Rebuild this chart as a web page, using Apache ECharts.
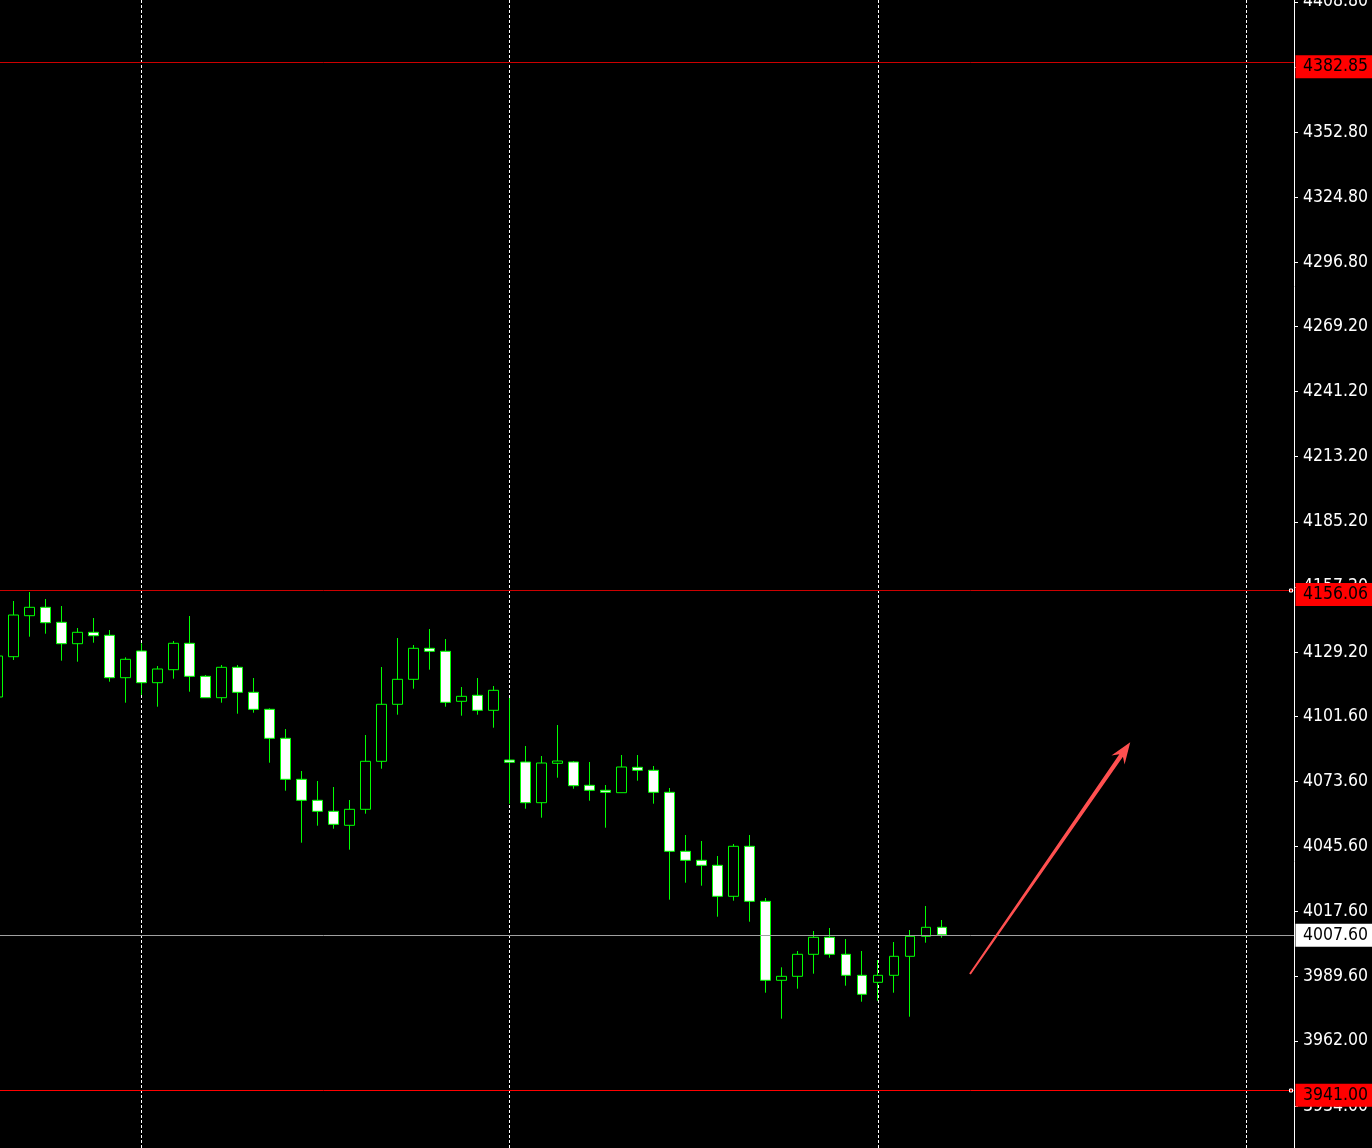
<!DOCTYPE html>
<html>
<head>
<meta charset="utf-8">
<script src="https://cdn.jsdelivr.net/npm/echarts@6/dist/echarts.min.js"></script>
<style>
html,body{margin:0;padding:0;background:#000;}
#c{width:1372px;height:1148px;}
</style>
</head>
<body>
<div id="c"></div>
<script>
// ---- data ----
const opens = [4109.87,4127.20,4144.83,4148.44,4141.99,4132.79,4137.69,4136.40,4118.17,4129.65,
  4116.02,4121.61,4132.96,4118.77,4109.57,4122.64,4111.89,4104.58,4092.11,4074.48,
  4065.45,4060.72,4054.70,4061.58,4082.22,4106.73,4117.48,4130.81,4129.52,4108.02,
  4110.60,4104.15,4082.78,4081.92,4064.42,4081.36,4081.92,4071.90,4069.75,4068.72,
  4079.64,4078.35,4068.89,4043.52,4039.65,4037.50,4024.17,4045.67,4022.02,3988.05,
  3989.77,3999.23,4006.54,3999.23,3990.20,3987.19,3990.20,3998.37,4006.97,4010.84];
const closes = [4127.50,4145.13,4148.44,4141.82,4132.79,4137.69,4136.23,4118.17,4126.08,4116.02,
  4121.91,4132.96,4118.77,4109.57,4122.64,4111.89,4104.58,4092.11,4074.48,4065.45,
  4060.72,4055.13,4061.58,4082.22,4106.73,4117.48,4130.81,4129.52,4107.59,4110.17,
  4104.15,4112.75,4081.79,4064.42,4081.49,4082.35,4071.73,4069.75,4068.89,4079.77,
  4078.35,4068.89,4043.52,4039.65,4037.50,4024.17,4045.67,4022.02,3988.05,3989.77,
  3999.23,4006.54,3999.23,3990.20,3982.03,3990.20,3998.37,4006.97,4010.84,4007.60];
const lows = [4106.43,4125.78,4135.80,4137.09,4125.48,4125.05,4133.22,4116.45,4107.42,4110.73,
  4105.70,4117.74,4112.15,4109.57,4107.42,4102.69,4103.12,4081.62,4069.58,4047.22,
  4054.53,4053.24,4044.21,4059.69,4079.04,4102.26,4113.44,4121.61,4105.70,4101.83,
  4102.26,4096.67,4063.99,4061.84,4057.97,4075.17,4070.44,4065.28,4053.67,4068.72,
  4073.88,4063.99,4022.71,4030.02,4028.73,4015.40,4022.28,4013.25,3982.72,3971.54,
  3984.44,3990.89,3997.77,3985.73,3978.85,3979.28,3982.72,3972.40,4004.22,4006.37];
const highs = [4130.08,4151.15,4155.02,4152.01,4149.00,4139.54,4143.84,4138.68,4126.94,4132.96,
  4123.20,4133.95,4144.70,4119.33,4123.63,4123.63,4118.04,4105.01,4096.11,4078.05,
  4073.75,4071.17,4065.58,4093.53,4122.77,4135.24,4132.23,4139.11,4134.81,4114.17,
  4118.04,4114.60,4109.44,4088.80,4084.50,4097.83,4082.35,4081.92,4072.03,4084.93,
  4084.93,4080.20,4070.74,4050.53,4047.95,4041.50,4046.66,4050.53,4023.44,3993.64,
  4000.65,4009.25,4010.54,4005.81,4000.65,3996.78,4004.52,4009.68,4020.00,4013.98];
const slotCount = 82;
const categories = Array.from({length: slotCount}, (_, i) => String(i));
const tickValues = [4408.80,4380.80,4352.80,4324.80,4296.80,4269.20,4241.20,4213.20,4185.20,
  4157.20,4129.20,4101.60,4073.60,4045.60,4017.60,3989.60,3962.00,3934.00];
const redLevels = [4382.85, 4156.06];
const supportLevel = 3941.00;
const bidLevel = 4007.60;
const gridLineIdx = [9, 32, 55, 78];
const yMin = 3915.94, yMax = 4409.58;
const arrowFrom = [60.76, 3990.76];
const arrowTo = [70.77, 4090.39];

// ---- chart ----
const FONT = '"DejaVu Sans Condensed", "Liberation Sans", sans-serif';
const chart = echarts.init(document.getElementById('c'), null, {renderer: 'canvas'});
const candleData = opens.map((o, i) => [o, closes[i], lows[i], highs[i]]);

chart.setOption({
  backgroundColor: '#000',
  animation: false,
  grid: {left: -2.7, right: 78, top: 0, bottom: 0, containLabel: false, outerBoundsMode: 'none'},
  xAxis: {
    type: 'category', data: categories, boundaryGap: false,
    axisLine: {show: false}, axisTick: {show: false}, axisLabel: {show: false},
    splitLine: {show: true, interval: (i) => gridLineIdx.includes(i),
      lineStyle: {color: '#ffffff', width: 1, type: [3, 2]}}
  },
  yAxis: {
    type: 'value', position: 'right', min: yMin, max: yMax, scale: true,
    splitLine: {show: false},
    axisLine: {show: true, lineStyle: {color: '#ffffff', width: 1}},
    axisTick: {show: true, length: 4, lineStyle: {color: '#ffffff'}, customValues: tickValues},
    axisLabel: {customValues: tickValues, formatter: v => v.toFixed(2), color: '#ffffff',
      fontFamily: FONT, fontSize: 17.5, margin: 9}
  },
  series: [{
    type: 'candlestick', data: candleData, barWidth: 10,
    itemStyle: {color: '#000000', color0: '#ffffff', borderColor: '#00ff00', borderColor0: '#00ff00', borderWidth: 1}
  }]
});

// ---- overlays (price lines, boxes, arrow) from data coordinates ----
const py = v => chart.convertToPixel({yAxisIndex: 0}, v);
const px0 = chart.convertToPixel({xAxisIndex: 0}, '0');
const px1 = chart.convertToPixel({xAxisIndex: 0}, '1');
const px = i => px0 + (px1 - px0) * i;
const axisX = chart.convertToPixel({xAxisIndex: 0}, String(slotCount - 1));

function priceLine(v, color) {
  const y = Math.round(py(v)) + 0.5;
  return {type: 'line', zlevel: 4, silent: true, shape: {x1: 0, y1: y, x2: axisX, y2: y},
    style: {stroke: color, lineWidth: 1}};
}
function priceBox(v, bg, dy) {
  const y = py(v) + dy;
  return {
    type: 'group', zlevel: 5, z: 100,
    children: [
      {type: 'rect', zlevel: 5, shape: {x: axisX + 1.5, y: y - 11.5, width: 90, height: 23}, style: {fill: bg}},
      {type: 'text', zlevel: 5, z: 101, x: axisX + 9, y: y, style: {text: v.toFixed(2), fill: '#000', font: '17.5px ' + FONT, verticalAlign: 'middle', align: 'left'}}
    ]
  };
}
function marker(v) {
  const y = Math.round(py(v)) + 0.5;
  return {type: 'rect', zlevel: 5, z: 101, shape: {x: axisX - 4.5, y: y - 1.5, width: 3, height: 3}, style: {fill: '#cc0000', stroke: '#ffffff', lineWidth: 1}};
}
// arrow polygon
const sx = px(arrowFrom[0]), sy = py(arrowFrom[1]);
const tx = px(arrowTo[0]), ty = py(arrowTo[1]);
const L = Math.hypot(tx - sx, ty - sy);
const ux = (tx - sx) / L, uy = (ty - sy) / L;
const nx = -uy, ny = ux;
const P = (d, w) => [tx - ux * d + nx * w, ty - uy * d + ny * w];
const arrowPts = [
  [tx, ty], P(21.5, 8), P(16, 2.2), [sx + nx * 1, sy + ny * 1], [sx - nx * 1, sy - ny * 1], P(16, -2.2), P(21.5, -8)
];

chart.setOption({
  graphic: [
    priceLine(redLevels[0], '#cc0000'),
    priceLine(redLevels[1], '#cc0000'),
    priceLine(bidLevel, '#a0a0a0'),
    priceLine(supportLevel, '#ff0000'),
    priceBox(redLevels[0], '#ff0000', 4.5),
    priceBox(redLevels[1], '#ff0000', 4.8),
    priceBox(bidLevel, '#ffffff', 0.3),
    priceBox(supportLevel, '#ff0000', 5.5),
    marker(redLevels[1]),
    marker(supportLevel),
    {type: 'polygon', zlevel: 5, z: 90, shape: {points: arrowPts}, style: {fill: '#ff5050'}}
  ]
});
</script>
</body>
</html>
